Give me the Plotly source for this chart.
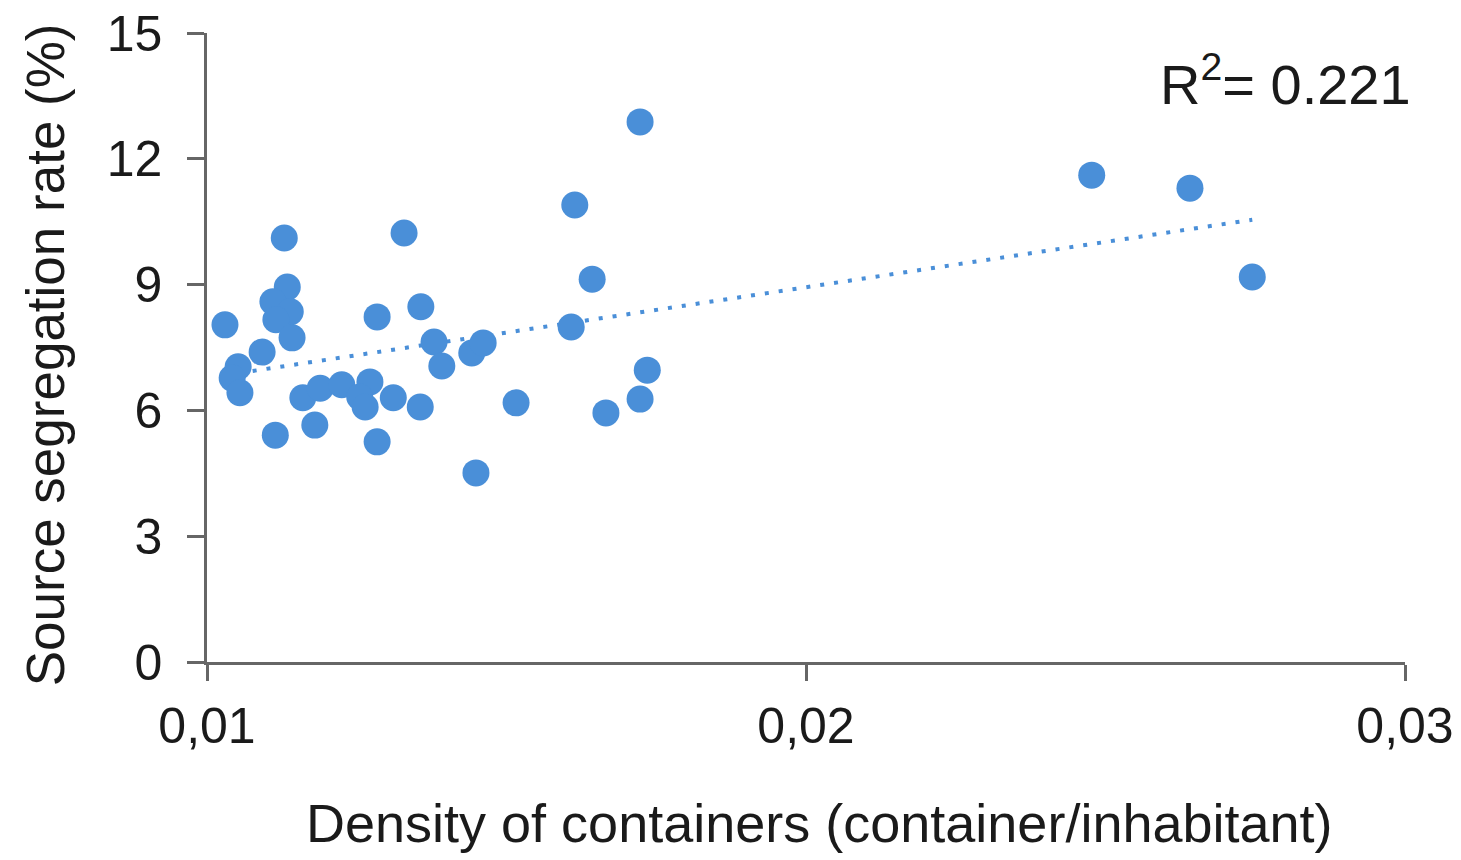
import numpy as np
import plotly.graph_objects as go

# Density of containers (container/inhabitant)
density = [0.01030, 0.01129, 0.01329, 0.01134, 0.01110, 0.01139, 0.01115, 0.01142,
           0.01092, 0.01052, 0.01042, 0.01055, 0.01114, 0.01180, 0.01160, 0.01189,
           0.01225, 0.01272, 0.01255, 0.01264, 0.01311, 0.01356, 0.01284, 0.01284,
           0.01357, 0.01379, 0.01392, 0.01442, 0.01461, 0.01449, 0.01516, 0.01608,
           0.01614, 0.01643, 0.01666, 0.01723, 0.01723, 0.01735, 0.02477, 0.02641,
           0.02745]
# Source segregation rate (%)
rate = [8.04, 10.11, 10.23, 8.94, 8.59, 8.35, 8.16, 7.73,
        7.39, 7.04, 6.77, 6.42, 5.41, 5.65, 6.30, 6.53,
        6.61, 6.68, 6.32, 6.08, 6.30, 6.08, 5.25, 8.23,
        8.47, 7.63, 7.06, 7.37, 7.61, 4.51, 6.18, 7.99,
        10.90, 9.13, 5.94, 12.88, 6.27, 6.96, 11.61, 11.30,
        9.18]

x_tickvals = [0.01, 0.02, 0.03]
x_ticktext = ["0,01", "0,02", "0,03"]
y_tickvals = [0, 3, 6, 9, 12, 15]
r2_label = "R<sup>2</sup>= 0.221"

blue = "#4a8fd8"
axis_col = "#666666"
txt_col = "#1a1a1a"
font_fam = "Liberation Sans, Arial, sans-serif"

xs = np.array(density)
ys = np.array(rate)
slope, intercept = np.polyfit(xs, ys, 1)
trend_x = [xs.min(), xs.max()]
trend_y = [slope * v + intercept for v in trend_x]

fig = go.Figure()
fig.add_trace(go.Scatter(x=trend_x, y=trend_y, mode="lines",
                         line=dict(color=blue, width=4, dash="4px,10px"),
                         hoverinfo="skip", showlegend=False))
fig.add_trace(go.Scatter(x=density, y=rate, mode="markers",
                         marker=dict(size=27, color=blue, line=dict(width=0)),
                         showlegend=False))

fig.update_layout(
    template="none",
    width=1461, height=860,
    margin=dict(l=207, r=56, t=33, b=198, autoexpand=False),
    paper_bgcolor="white", plot_bgcolor="white",
    font=dict(family=font_fam, color=txt_col, size=50),
    xaxis=dict(range=[0.01, 0.03], tickvals=x_tickvals, ticktext=x_ticktext,
               showline=True, linecolor=axis_col, linewidth=2.5,
               ticks="outside", ticklen=16, tickwidth=2.5, tickcolor=axis_col,
               showgrid=False, zeroline=False, automargin=False,
               tickfont=dict(size=50, color=txt_col), ticklabelstandoff=2),
    yaxis=dict(range=[0, 15], tickvals=y_tickvals,
               showline=True, linecolor=axis_col, linewidth=2.5,
               ticks="outside", ticklen=17, tickwidth=2.5, tickcolor=axis_col,
               showgrid=False, zeroline=False, automargin=False,
               tickfont=dict(size=50, color=txt_col), ticklabelstandoff=15),
    annotations=[
        dict(text="Density of containers (container/inhabitant)",
             xref="paper", yref="paper", x=0.511, y=-0.256,
             xanchor="center", yanchor="middle", showarrow=False,
             font=dict(size=54, color=txt_col)),
        dict(text="Source segregation rate (%)",
             xref="paper", yref="paper", x=-0.135, y=0.488,
             xanchor="center", yanchor="middle", textangle=-90, showarrow=False,
             font=dict(size=53, color=txt_col)),
        dict(text=r2_label,
             xref="paper", yref="paper", x=1.0067, y=0.925,
             xanchor="right", yanchor="middle", showarrow=False,
             font=dict(size=56, color=txt_col)),
    ],
)

fig.write_html("out.html")
